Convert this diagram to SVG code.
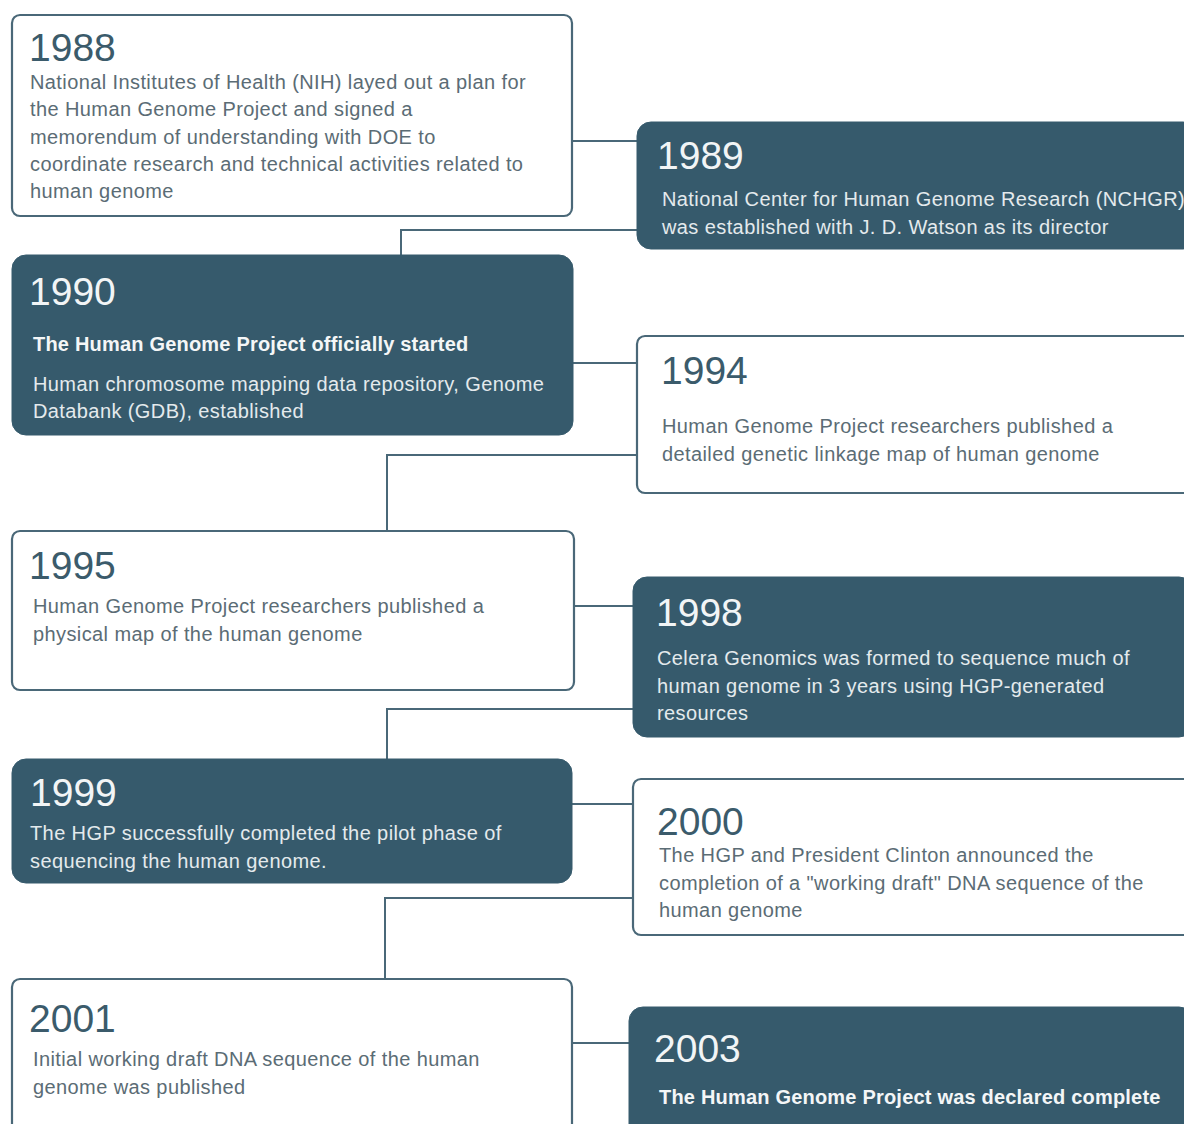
<svg xmlns="http://www.w3.org/2000/svg" width="1184" height="1124" viewBox="0 0 1184 1124">
<style>
  .bg{fill:#ffffff}
  .out{fill:#ffffff;stroke:#4a6878;stroke-width:2.2}
  .fill{fill:#365a6c;stroke:#365a6c;stroke-width:1}
  .conn{fill:none;stroke:#4a6878;stroke-width:2}
  text{font-family:"Liberation Sans",Arial,sans-serif}
  .yd{font-size:39px;fill:#3b5b6b}
  .yl{font-size:39px;fill:#f2f5f6}
  .bd{font-size:20px;letter-spacing:0.4px;fill:#5b6c75}
  .bl{font-size:20px;letter-spacing:0.4px;fill:#e4eaed}
  .bb{font-size:20px;letter-spacing:0.2px;font-weight:bold;fill:#f4f6f7}
</style>
<rect class="bg" x="0" y="0" width="1184" height="1124"/>
<g id="connectors">
  <path class="conn" d="M572 141 H637"/>
  <path class="conn" d="M637 230 H401 V256"/>
  <path class="conn" d="M573 363 H637"/>
  <path class="conn" d="M637 455 H387 V531"/>
  <path class="conn" d="M574 606 H633"/>
  <path class="conn" d="M633 709 H387 V759"/>
  <path class="conn" d="M572 804 H633"/>
  <path class="conn" d="M633 898 H385 V979"/>
  <path class="conn" d="M572 1043 H629"/>
</g>
<g id="n1988">
  <rect class="out" x="12" y="15" width="560" height="201" rx="8"/>
  <text class="yd" x="29" y="61">1988</text>
  <text class="bd" x="30" y="89">National Institutes of Health (NIH) layed out a plan for</text>
  <text class="bd" x="30" y="116">the Human Genome Project and signed a</text>
  <text class="bd" x="30" y="144">memorendum of understanding with DOE to</text>
  <text class="bd" x="30" y="171">coordinate research and technical activities related to</text>
  <text class="bd" x="30" y="198">human genome</text>
</g>
<g id="n1989">
  <rect class="fill" x="637" y="122" width="560" height="127" rx="14"/>
  <text class="yl" x="657" y="169">1989</text>
  <text class="bl" x="662" y="206">National Center for Human Genome Research (NCHGR)</text>
  <text class="bl" x="662" y="234">was established with J. D. Watson as its director</text>
</g>
<g id="n1990">
  <rect class="fill" x="12" y="255" width="561" height="180" rx="14"/>
  <text class="yl" x="29" y="305">1990</text>
  <text class="bb" x="33" y="351">The Human Genome Project officially started</text>
  <text class="bl" x="33" y="391">Human chromosome mapping data repository, Genome</text>
  <text class="bl" x="33" y="418">Databank (GDB), established</text>
</g>
<g id="n1994">
  <rect class="out" x="637" y="336" width="560" height="157" rx="8"/>
  <text class="yd" x="661" y="384">1994</text>
  <text class="bd" x="662" y="433">Human Genome Project researchers published  a</text>
  <text class="bd" x="662" y="461">detailed genetic linkage map of human genome</text>
</g>
<g id="n1995">
  <rect class="out" x="12" y="531" width="562" height="159" rx="8"/>
  <text class="yd" x="29" y="579">1995</text>
  <text class="bd" x="33" y="613">Human Genome Project researchers published a</text>
  <text class="bd" x="33" y="641">physical map of the human genome</text>
</g>
<g id="n1998">
  <rect class="fill" x="633" y="577" width="560" height="160" rx="14"/>
  <text class="yl" x="656" y="626">1998</text>
  <text class="bl" x="657" y="665">Celera Genomics was formed to sequence much of</text>
  <text class="bl" x="657" y="693">human genome in 3 years using HGP-generated</text>
  <text class="bl" x="657" y="720">resources</text>
</g>
<g id="n1999">
  <rect class="fill" x="12" y="759" width="560" height="124" rx="14"/>
  <text class="yl" x="30" y="806">1999</text>
  <text class="bl" x="30" y="840">The HGP successfully completed the pilot phase of</text>
  <text class="bl" x="30" y="868">sequencing the human genome.</text>
</g>
<g id="n2000">
  <rect class="out" x="633" y="779" width="560" height="156" rx="8"/>
  <text class="yd" x="657" y="835">2000</text>
  <text class="bd" x="659" y="862">The HGP and President Clinton announced the</text>
  <text class="bd" x="659" y="890">completion of a "working draft" DNA sequence of the</text>
  <text class="bd" x="659" y="917">human genome</text>
</g>
<g id="n2001">
  <rect class="out" x="12" y="979" width="560" height="170" rx="8"/>
  <text class="yd" x="29" y="1032">2001</text>
  <text class="bd" x="33" y="1066">Initial working draft DNA sequence of the human</text>
  <text class="bd" x="33" y="1094">genome was published</text>
</g>
<g id="n2003">
  <rect class="fill" x="629" y="1007" width="564" height="140" rx="14"/>
  <text class="yl" x="654" y="1062">2003</text>
  <text class="bb" x="659" y="1104">The Human Genome Project was declared complete</text>
</g>
</svg>
